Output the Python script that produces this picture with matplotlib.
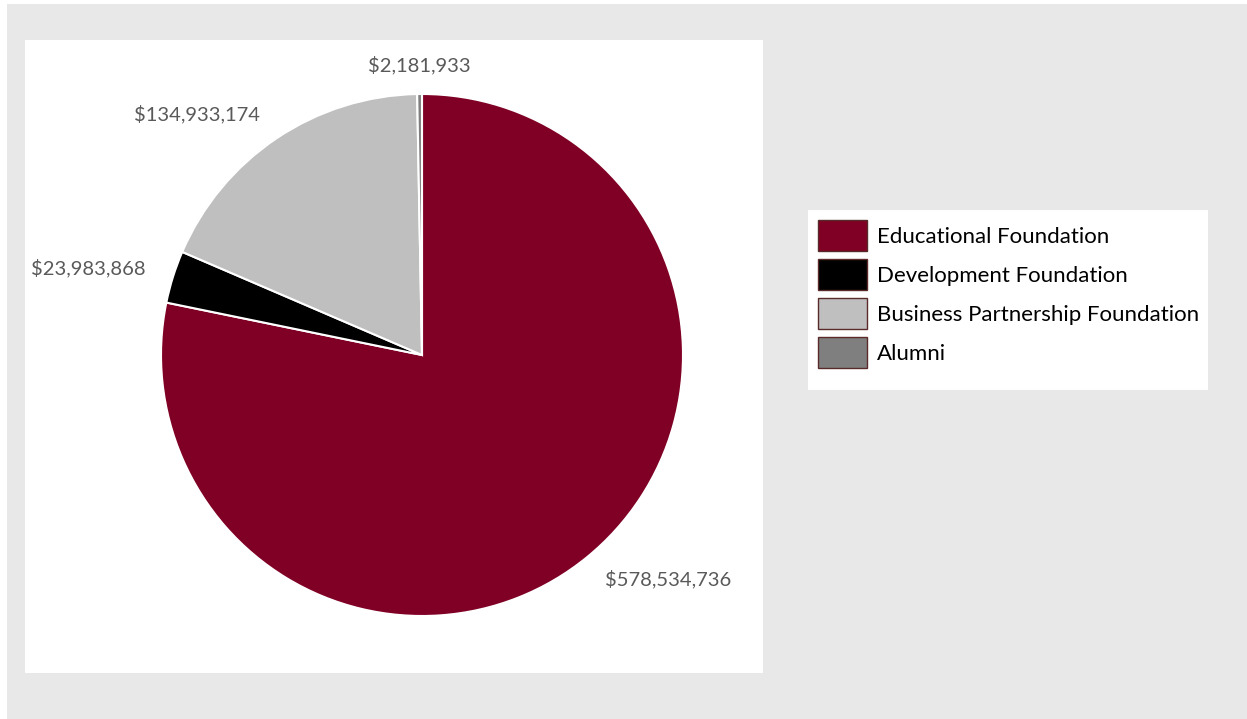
import matplotlib
matplotlib.use("Agg")
import matplotlib.pyplot as plt
from matplotlib.patches import Rectangle

plt.rcParams['font.family'] = ['Lato', 'DejaVu Sans']

# data
categories = ['Educational Foundation', 'Development Foundation',
              'Business Partnership Foundation', 'Alumni']
amounts = [578534736, 23983868, 134933174, 2181933]
colors = ['#800025', '#000000', '#bfbfbf', '#7f7f7f']
labels = ['${:,}'.format(v) for v in amounts]

W, H = 1247, 719
fig = plt.figure(figsize=(W / 100, H / 100), dpi=100, facecolor='white')

# grey outer panel, white chart area, white legend box
fig.patches.append(Rectangle((7 / W, 0), 1 - 7 / W, 1 - 4 / H, transform=fig.transFigure,
                             facecolor='#e8e8e8', edgecolor='none', zorder=-2))
fig.patches.append(Rectangle((25 / W, 1 - 673 / H), (763 - 25) / W, (673 - 40) / H,
                             transform=fig.transFigure, facecolor='white',
                             edgecolor='none', zorder=-1))
fig.patches.append(Rectangle((808 / W, 1 - 390 / H), 400 / W, 180 / H,
                             transform=fig.transFigure, facecolor='white',
                             edgecolor='none', zorder=-1))

# pie: centre (422, 355), radius 261 px
cx, cy, r = 422, 355, 261
ax = fig.add_axes([(cx - r) / W, (H - cy - r) / H, 2 * r / W, 2 * r / H])
wedges, texts = ax.pie(amounts, labels=labels, colors=colors, startangle=90,
                       counterclock=False, labeldistance=1.11,
                       wedgeprops=dict(edgecolor='white', linewidth=1.5),
                       textprops=dict(color='#595959', fontsize=14.5))
texts[3].set_ha('center')
ax.set_xlim(-1, 1)
ax.set_ylim(-1, 1)

leg = fig.legend(wedges, categories, loc='upper left',
                 bbox_to_anchor=(808 / W, 1 - 390 / H, 400 / W, 180 / H),
                 mode='expand', borderaxespad=0, fontsize=16,
                 handlelength=2.2, handleheight=1.75, labelspacing=0.38,
                 handletextpad=0.45, borderpad=0.45, frameon=False)
for h in leg.legend_handles:
    h.set_edgecolor('#5a2a2a')
    h.set_linewidth(1)

fig.savefig('out.png', dpi=100, facecolor='white')
